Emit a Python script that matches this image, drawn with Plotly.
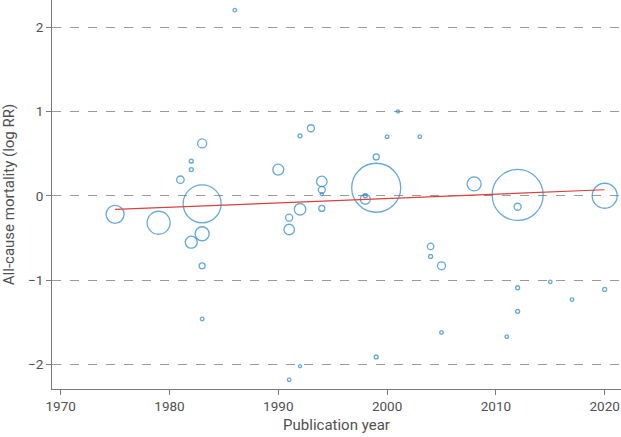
import plotly.graph_objects as go

# Study-level data
pub_year = [1986, 1975, 1979, 1981, 1982, 1982, 1983, 1983, 1982, 1983, 1983, 1983,
            1990, 1991, 1991, 1992, 1992, 1993, 1994, 1994, 1994, 1994, 1991, 1992,
            1999, 1999, 1998, 1998, 2000, 2001, 2003, 1999, 2004, 2004, 2005, 2005,
            2008, 2012, 2012, 2012, 2012, 2011, 2015, 2017, 2020, 2020]
log_rr = [2.20, -0.22, -0.32, 0.19, 0.41, 0.31, 0.62, -0.095, -0.55, -0.45, -0.83, -1.46,
          0.31, -0.26, -0.40, -0.16, 0.71, 0.80, 0.17, 0.07, 0.02, -0.15, -2.18, -2.02,
          0.46, 0.095, 0.0, -0.04, 0.70, 1.00, 0.70, -1.91, -0.60, -0.72, -0.83, -1.62,
          0.14, 0.01, -0.13, -1.09, -1.37, -1.67, -1.02, -1.23, -1.11, 0.0]
study_weight = [3.5, 18, 23, 7.5, 4, 4, 9, 38, 12, 14, 6, 3.5,
                11, 7, 10.5, 11.5, 4, 7, 10.5, 7, 3, 6, 3.5, 3,
                6, 49, 4, 10, 3.5, 3, 3.5, 4, 6.5, 4, 8, 3.5,
                14, 51, 7, 4, 4, 3.5, 3.5, 3.5, 4, 25]

trend_years = [1975, 2020]
trend_values = [-0.162, 0.071]

x_ticks = [1970, 1980, 1990, 2000, 2010, 2020]
y_ticks = [-2, -1, 0, 1, 2]

BLUE = "#2385c8"
RED = "#d9403e"
AXIS = "#7a7a7a"
TEXT = "#505050"
FONT = "Roboto, sans-serif"

fig = go.Figure()
fig.add_trace(go.Scatter(
    x=pub_year, y=log_rr, mode="markers",
    marker=dict(symbol="circle-open", size=study_weight, sizemode="diameter",
                color=BLUE, line=dict(width=1.3, color=BLUE)),
    cliponaxis=False, hoverinfo="x+y", showlegend=False))
fig.add_trace(go.Scatter(
    x=trend_years, y=trend_values, mode="lines",
    line=dict(color=RED, width=1.2), showlegend=False))

fig.update_layout(
    width=621, height=437,
    margin=dict(l=52, r=0, t=0, b=48),
    paper_bgcolor="white", plot_bgcolor="white",
    font=dict(family=FONT, size=13.5, color=TEXT),
    xaxis=dict(range=[1969.2, 2021.5], tickvals=x_ticks, showgrid=False,
               zeroline=False, showline=True, linecolor=AXIS, linewidth=1,
               ticks="outside", ticklen=5, tickcolor=AXIS, automargin=False,
               title=dict(text="Publication year", font=dict(size=15), standoff=6)),
    yaxis=dict(range=[-2.29, 2.32], tickvals=y_ticks, showgrid=True,
               gridcolor="#9a9a9a", griddash="dash", gridwidth=1,
               zeroline=False, showline=True, linecolor=AXIS, linewidth=1,
               ticks="outside", ticklen=5, tickcolor=AXIS, automargin=False,
               title=dict(text="All-cause mortality (log RR)", font=dict(size=15), standoff=10)),
)

fig.write_html("out.html", config={"displayModeBar": False},
               post_script="document.body.style.margin='0';document.body.style.padding='0';")
